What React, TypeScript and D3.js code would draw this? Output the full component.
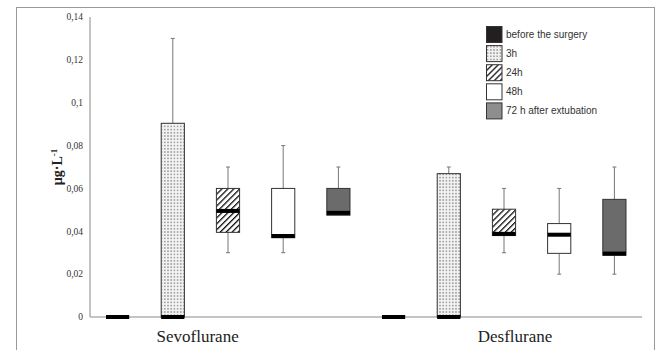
import React from "react";
import * as d3 from "d3";

const groups = ["Sevoflurane", "Desflurane"];
const timepoints = ["before the surgery", "3h", "24h", "48h", "72 h after extubation"];
const yTicks = [0, 0.02, 0.04, 0.06, 0.08, 0.1, 0.12, 0.14];
const tickLabels = ["0", "0,02", "0,04", "0,06", "0,08", "0,1", "0,12", "0,14"];

// [min, q1, median, q3, max] per timepoint
const sevoflurane = [
  [0, 0, 0, 0, 0],
  [0, 0, 0, 0.0904, 0.13],
  [0.03, 0.0395, 0.0495, 0.06, 0.07],
  [0.03, 0.037, 0.0378, 0.06, 0.08],
  [0.0475, 0.0475, 0.0486, 0.06, 0.07],
];
const desflurane = [
  [0, 0, 0, 0, 0],
  [0, 0, 0, 0.0669, 0.07],
  [0.03, 0.038, 0.0388, 0.0503, 0.06],
  [0.02, 0.0297, 0.0384, 0.0436, 0.06],
  [0.02, 0.0288, 0.0296, 0.0549, 0.07],
];

const W = 659;
const H = 350;
const margin = { top: 17, right: 17, bottom: 33, left: 90 };

export default function App() {
  const x0 = d3
    .scaleBand()
    .domain(groups)
    .range([margin.left, W - margin.right])
    .padding(0);
  const x1 = d3
    .scaleBand()
    .domain(timepoints)
    .range([0, x0.bandwidth()])
    .paddingInner(0.58)
    .paddingOuter(0.29);
  const y = d3
    .scaleLinear()
    .domain([0, 0.14])
    .range([H - margin.bottom, margin.top]);

  const fills = ["#222", "url(#dots)", "url(#stripes)", "#fff", "#6b6b6b"];
  const legendFills = ["#231f20", "url(#dots)", "url(#stripes)", "#fff", "#8e8e8e"];
  const data = [sevoflurane, desflurane];
  const labelPos = [0.39, 0.54];

  return (
    <svg
      width={W}
      height={H}
      style={{ position: "absolute", left: 0, top: 0, background: "#fff" }}
    >
      <defs>
        <pattern id="dots" width="3.2" height="3.2" patternUnits="userSpaceOnUse">
          <rect width="3.2" height="3.2" fill="#f2f2f2" />
          <circle cx="1.6" cy="1.6" r="0.8" fill="#888" />
        </pattern>
        <pattern
          id="stripes"
          width="4.2"
          height="4.2"
          patternUnits="userSpaceOnUse"
          patternTransform="rotate(45)"
        >
          <rect width="4.2" height="4.2" fill="#fff" />
          <line x1="0" y1="0" x2="0" y2="4.2" stroke="#111" strokeWidth="2.6" />
        </pattern>
      </defs>

      <rect x={16.5} y={7.5} width={638} height={360} fill="none" stroke="#9a9a9a" />

      {/* y axis */}
      <line
        x1={margin.left}
        x2={margin.left}
        y1={y(0.14)}
        y2={y(0)}
        stroke="#b0b0b0"
        strokeWidth={1.5}
      />
      <line
        x1={margin.left}
        x2={W - margin.right}
        y1={y(0)}
        y2={y(0)}
        stroke="#b0b0b0"
        strokeWidth={1.5}
      />
      {yTicks.map((t, i) => (
        <text
          key={t}
          x={83}
          y={y(t)}
          dy="0.35em"
          textAnchor="end"
          fontFamily="Liberation Serif, serif"
          fontSize={9.5}
          fill="#333"
        >
          {tickLabels[i]}
        </text>
      ))}
      <text
        transform={`translate(62,${y(0.07)}) rotate(-90)`}
        textAnchor="middle"
        fontFamily="Liberation Serif, serif"
        fontSize={14}
        fontWeight="bold"
        fill="#222"
      >
        µg·L
        <tspan fontSize={9} dy={-5}>
          -1
        </tspan>
      </text>

      {/* boxes */}
      {groups.map((g, gi) =>
        timepoints.map((tp, ti) => {
          const [mn, q1, md, q3, mx] = data[gi][ti];
          const bx = (x0(g) as number) + (x1(tp) as number);
          const bw = x1.bandwidth();
          const cx = bx + bw / 2;
          return (
            <g key={g + tp}>
              {mx > q3 && (
                <>
                  <line x1={cx} x2={cx} y1={y(mx)} y2={y(q3)} stroke="#777" strokeWidth={1} />
                  <line x1={cx - 2} x2={cx + 2} y1={y(mx)} y2={y(mx)} stroke="#777" />
                </>
              )}
              {mn < q1 && (
                <>
                  <line x1={cx} x2={cx} y1={y(q1)} y2={y(mn)} stroke="#777" strokeWidth={1} />
                  <line x1={cx - 2} x2={cx + 2} y1={y(mn)} y2={y(mn)} stroke="#777" />
                </>
              )}
              {q3 > q1 && (
                <rect
                  x={bx}
                  y={y(q3)}
                  width={bw}
                  height={y(q1) - y(q3)}
                  fill={fills[ti]}
                  stroke="#333"
                  strokeWidth={1}
                />
              )}
              <rect
                x={bx}
                y={y(md) - 2}
                width={bw}
                height={4}
                fill="#000"
              />
            </g>
          );
        })
      )}

      {groups.map((g, gi) => (
        <text
          key={g}
          x={(x0(g) as number) + x0.bandwidth() * labelPos[gi]}
          y={342}
          textAnchor="middle"
          fontFamily="Liberation Serif, serif"
          fontSize={17}
          fill="#222"
        >
          {g}
        </text>
      ))}

      {/* legend */}
      {timepoints.map((tp, i) => (
        <g key={tp} transform={`translate(486,${26 + i * 19.1})`}>
          <rect
            x={0.5}
            y={0.5}
            width={15.5}
            height={16}
            fill={legendFills[i]}
            stroke="#333"
            strokeWidth={1}
          />
          <text
            x={20}
            y={8.5}
            dy="0.35em"
            fontFamily="Liberation Sans, Arial, sans-serif"
            fontSize={10}
            fill="#333"
          >
            {tp}
          </text>
        </g>
      ))}
    </svg>
  );
}
